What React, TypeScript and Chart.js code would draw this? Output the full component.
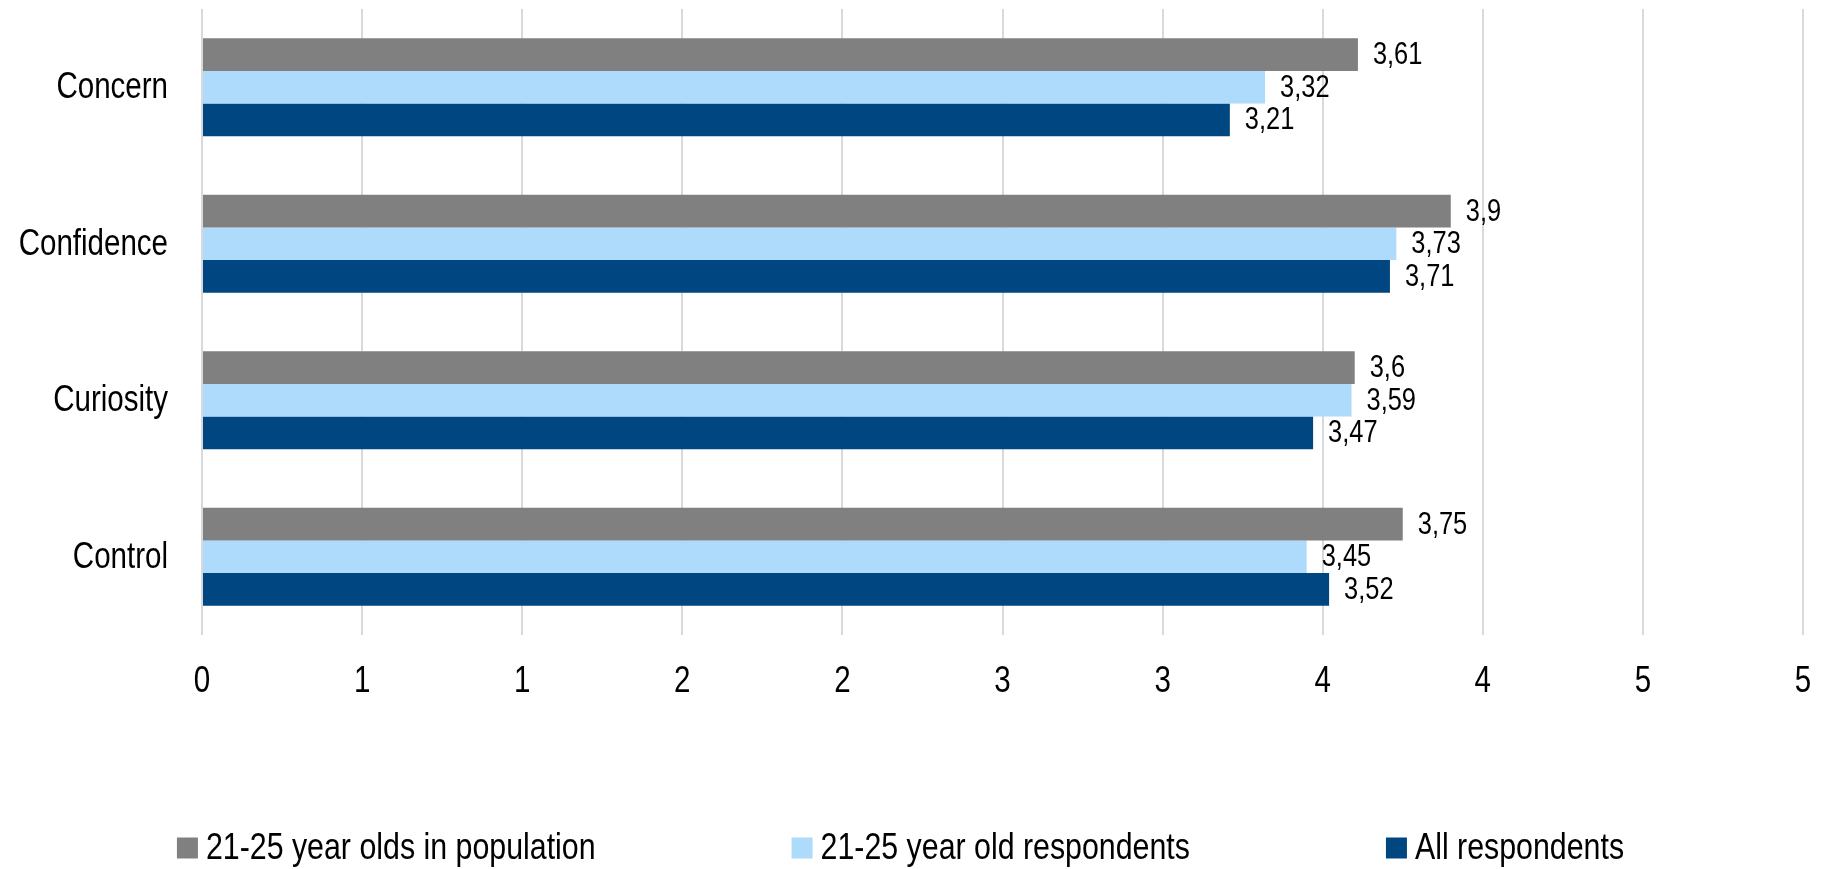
import { useEffect, useRef } from 'react';
import { Chart, registerables } from 'chart.js';

Chart.register(...registerables);

const categories = ['Concern', 'Confidence', 'Curiosity', 'Control'];
const population2125 = [3.61, 3.9, 3.6, 3.75];
const respondents2125 = [3.32, 3.73, 3.59, 3.45];
const allRespondents = [3.21, 3.71, 3.47, 3.52];
const seriesNames = ['21-25 year olds in population', '21-25 year old respondents', 'All respondents'];
const seriesColors = ['#808080', '#aedafc', '#004680'];
const xTickLabels = ['0', '1', '1', '2', '2', '3', '3', '4', '4', '5', '5'];

const FONT = '"Liberation Sans", Arial, sans-serif';
const NARROW = 0.82; // horizontal squeeze for a narrow-sans look
const AXIS_SIZE = 36;
const VALUE_SIZE = 31;
const LEGEND_SIZE = 37;

function narrowText(ctx: CanvasRenderingContext2D, text: string, x: number, y: number) {
  ctx.save();
  ctx.translate(x, y);
  ctx.scale(NARROW, 1);
  ctx.fillText(text, 0, 0);
  ctx.restore();
}

// Category and value-axis labels, placed from the chart's own scales.
const axisLabels = {
  id: 'axisLabels',
  afterDraw(chart: any) {
    const ctx = chart.ctx;
    const area = chart.chartArea;
    const xs = chart.scales.x;
    const ys = chart.scales.y;
    ctx.save();
    ctx.font = `${AXIS_SIZE}px ${FONT}`;
    ctx.fillStyle = '#000';
    ctx.textBaseline = 'middle';
    ctx.textAlign = 'right';
    ys.ticks.forEach((_t: any, i: number) => {
      narrowText(ctx, categories[i], area.left - 34, ys.getPixelForTick(i) + 1);
    });
    ctx.textAlign = 'center';
    xs.ticks.forEach((_t: any, i: number) => {
      narrowText(ctx, xTickLabels[i], xs.getPixelForTick(i), area.bottom + 47);
    });
    ctx.restore();
  },
};

// Writes each bar's value (decimal comma) just past the bar's end.
const valueLabels = {
  id: 'valueLabels',
  afterDatasetsDraw(chart: any) {
    const ctx = chart.ctx;
    ctx.save();
    ctx.font = `${VALUE_SIZE}px ${FONT}`;
    ctx.fillStyle = '#000';
    ctx.textAlign = 'left';
    ctx.textBaseline = 'middle';
    chart.data.datasets.forEach((ds: any, di: number) => {
      const meta = chart.getDatasetMeta(di);
      meta.data.forEach((el: any, i: number) => {
        const text = String(ds.data[i]).replace('.', ',');
        narrowText(ctx, text, el.x + 15, el.y + 1);
      });
    });
    ctx.restore();
  },
};

// Single-row legend along the bottom of the canvas.
const bottomLegend = {
  id: 'bottomLegend',
  afterDraw(chart: any) {
    const ctx = chart.ctx;
    const box = 21;
    const textGap = 8;
    const itemGap = 196;
    ctx.save();
    ctx.font = `${LEGEND_SIZE}px ${FONT}`;
    const widths = seriesNames.map((n) => box + textGap + ctx.measureText(n).width * NARROW);
    const total = widths.reduce((a, b) => a + b, 0) + itemGap * (widths.length - 1);
    let x = (chart.width - total) / 2 - 10;
    const cy = chart.height - 21;
    ctx.textAlign = 'left';
    ctx.textBaseline = 'middle';
    seriesNames.forEach((name, i) => {
      ctx.fillStyle = seriesColors[i];
      ctx.fillRect(x, cy - box / 2, box, box);
      ctx.fillStyle = '#000';
      narrowText(ctx, name, x + box + textGap, cy + 1);
      x += widths[i] + itemGap;
    });
    ctx.restore();
  },
};

export default function App() {
  const canvasRef = useRef<HTMLCanvasElement>(null);

  useEffect(() => {
    const canvas = canvasRef.current;
    if (!canvas) return;
    const seriesValues = [population2125, respondents2125, allRespondents];
    const chart = new Chart(canvas, {
      type: 'bar',
      data: {
        labels: categories,
        datasets: seriesValues.map((values, i) => ({
          label: seriesNames[i],
          data: values,
          backgroundColor: seriesColors[i],
          borderWidth: 0,
          categoryPercentage: 0.626,
          barPercentage: 1,
        })),
      },
      options: {
        indexAxis: 'y',
        responsive: false,
        animation: false,
        layout: { padding: { left: 0, right: 18, top: 9, bottom: 166 } },
        scales: {
          x: {
            min: 0,
            max: 5,
            ticks: {
              stepSize: 0.5,
              autoSkip: false,
              maxRotation: 0,
              color: 'rgba(0,0,0,0)',
              font: { family: FONT, size: AXIS_SIZE },
              callback: (_v: any, i: number) => xTickLabels[i],
            },
            grid: { color: '#d9d9d9', lineWidth: 2, drawTicks: false },
            border: { display: false },
            afterFit(scale: any) {
              scale.height = 68;
              scale.paddingLeft = 0;
              scale.paddingRight = 0;
            },
          },
          y: {
            ticks: {
              color: 'rgba(0,0,0,0)',
              font: { family: FONT, size: AXIS_SIZE },
            },
            grid: { display: false, drawTicks: false },
            border: { display: false },
            afterFit(scale: any) {
              scale.width = 202;
              scale.paddingTop = 0;
              scale.paddingBottom = 0;
            },
          },
        },
        plugins: {
          legend: { display: false },
          tooltip: { enabled: false },
        },
      },
      plugins: [valueLabels, axisLabels, bottomLegend],
    });
    return () => chart.destroy();
  }, []);

  return (
    <div style={{ position: 'absolute', left: 0, top: 0, width: 1821, height: 869, background: '#fff' }}>
      <canvas ref={canvasRef} width={1821} height={869} style={{ display: 'block' }} />
    </div>
  );
}
